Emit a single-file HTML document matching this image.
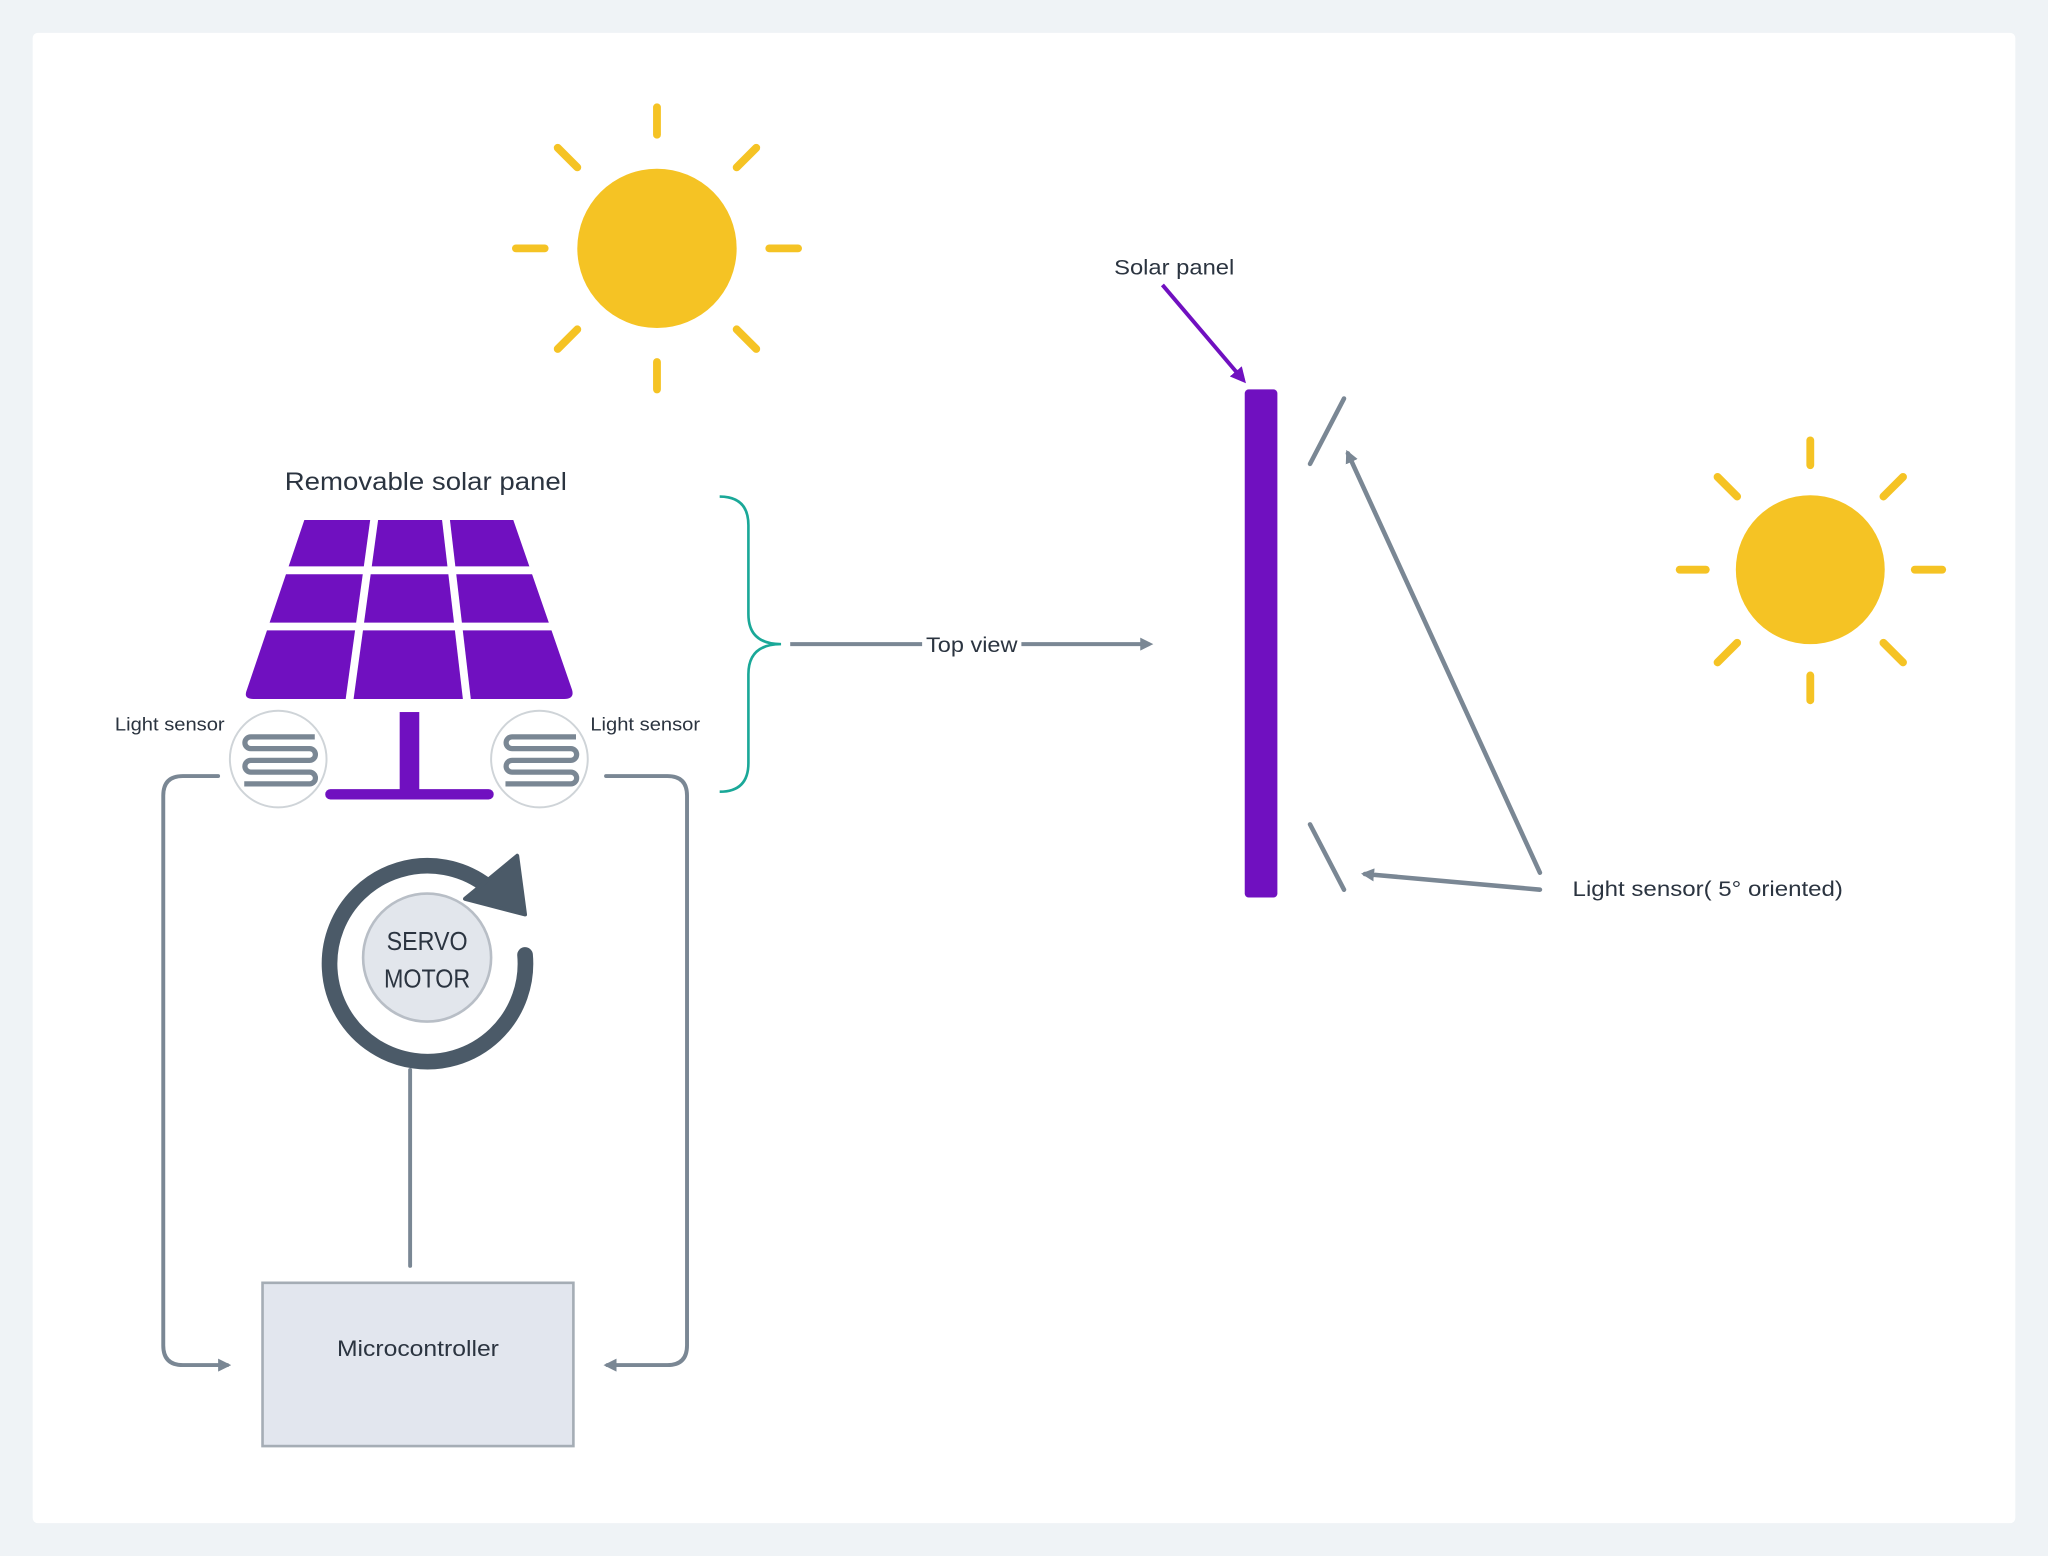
<!DOCTYPE html>
<html><head><meta charset="utf-8"><style>
html,body{margin:0;padding:0;background:#eff3f6;}
svg{display:block;}
text{font-family:"Liberation Sans",sans-serif;fill:#2b3440;}
</style></head><body>
<svg width="2048" height="1556" viewBox="0 0 1568 1191" xmlns="http://www.w3.org/2000/svg">
<defs>
<marker id="ag" markerWidth="10" markerHeight="10" refX="7" refY="5" orient="auto" markerUnits="userSpaceOnUse"><path d="M0,0 L10,5 L0,10 z" fill="#7a8794"/></marker>
<marker id="ap" markerWidth="12" markerHeight="12" refX="9" refY="6" orient="auto" markerUnits="userSpaceOnUse"><path d="M0,0 L12,6 L0,12 z" fill="#7010c0"/></marker>
</defs>
<rect x="0" y="0" width="1568" height="1191" fill="#eff3f6"/>
<rect x="25" y="25" width="1518" height="1141" rx="4" fill="#fff"/>

<g stroke="#f5c324" stroke-width="6" stroke-linecap="round">
<circle cx="503" cy="190" r="61" fill="#f5c324" stroke="none"/>
<line x1="503" y1="82" x2="503" y2="103"/><line x1="503" y1="277" x2="503" y2="298"/>
<line x1="395" y1="190" x2="417" y2="190"/><line x1="589" y1="190" x2="611" y2="190"/>
<line x1="427" y1="113" x2="442" y2="128"/><line x1="579" y1="113" x2="564" y2="128"/>
<line x1="427" y1="267" x2="442" y2="252"/><line x1="579" y1="267" x2="564" y2="252"/>
</g>
<g stroke="#f5c324" stroke-width="6" stroke-linecap="round">
<circle cx="1386" cy="436" r="57" fill="#f5c324" stroke="none"/>
<line x1="1386" y1="337" x2="1386" y2="356"/><line x1="1386" y1="517" x2="1386" y2="536"/>
<line x1="1286" y1="436" x2="1306" y2="436"/><line x1="1466" y1="436" x2="1487" y2="436"/>
<line x1="1315" y1="365" x2="1330" y2="380"/><line x1="1457" y1="365" x2="1442" y2="380"/>
<line x1="1315" y1="507" x2="1330" y2="492"/><line x1="1457" y1="507" x2="1442" y2="492"/>
</g>

<text x="218" y="375" font-size="19" textLength="216" lengthAdjust="spacingAndGlyphs">Removable solar panel</text>
<path d="M233,398 L393,398 L438,528 Q440,535 432,535 L194,535 Q186,535 189,528 Z" fill="#7010c0"/>
<g stroke="#fff" stroke-width="6">
<line x1="200" y1="436.5" x2="430" y2="436.5"/>
<line x1="195" y1="479.5" x2="435" y2="479.5"/>
<line x1="287" y1="394" x2="267" y2="540"/>
<line x1="341" y1="394" x2="358" y2="540"/>
</g>
<rect x="306" y="545" width="15" height="62" fill="#7010c0"/>
<line x1="253" y1="608" x2="374" y2="608" stroke="#7010c0" stroke-width="8" stroke-linecap="round"/>

<g fill="none">
<circle cx="213" cy="581" r="37" stroke="#cfd4d8" stroke-width="1.5"/>
<circle cx="413" cy="581" r="37" stroke="#cfd4d8" stroke-width="1.5"/>
<path d="M241,564 H192 a4.5,4.5 0 0 0 0,9 H237 a4.5,4.5 0 0 1 0,9 H192 a4.5,4.5 0 0 0 0,9 H237 a4.5,4.5 0 0 1 0,9 H187" stroke="#7a8794" stroke-width="4"/>
<path d="M441,564 H392 a4.5,4.5 0 0 0 0,9 H437 a4.5,4.5 0 0 1 0,9 H392 a4.5,4.5 0 0 0 0,9 H437 a4.5,4.5 0 0 1 0,9 H387" stroke="#7a8794" stroke-width="4"/>
</g>
<text x="88" y="559" font-size="14" textLength="84" lengthAdjust="spacingAndGlyphs">Light sensor</text>
<text x="452" y="559" font-size="14" textLength="84" lengthAdjust="spacingAndGlyphs">Light sensor</text>

<g fill="none" stroke="#7a8794" stroke-width="3" stroke-linecap="round">
<path d="M167,594 H140 Q125,594 125,609 V1030 Q125,1045 140,1045 H174" marker-end="url(#ag)"/>
<path d="M464,594 H511 Q526,594 526,609 V1030 Q526,1045 511,1045 H465" marker-end="url(#ag)"/>
<line x1="314" y1="819" x2="314" y2="969"/>
</g>

<path d="M370,676 A75,75 0 1 0 402,731" fill="none" stroke="#4b5a68" stroke-width="12" stroke-linecap="round"/>
<path d="M356,688 L396,655 L402,700 Z" fill="#4b5a68" stroke="#4b5a68" stroke-width="3" stroke-linejoin="round"/>
<circle cx="327" cy="733" r="49" fill="#e2e6ec" stroke="#b8bec6" stroke-width="2"/>
<text x="327" y="727" font-size="20" text-anchor="middle" textLength="62" lengthAdjust="spacingAndGlyphs">SERVO</text>
<text x="327" y="756" font-size="20" text-anchor="middle" textLength="66" lengthAdjust="spacingAndGlyphs">MOTOR</text>

<rect x="201" y="982" width="238" height="125" fill="#e2e6ee" stroke="#a5adb5" stroke-width="2"/>
<text x="258" y="1038" font-size="17" textLength="124" lengthAdjust="spacingAndGlyphs">Microcontroller</text>

<path d="M551,380 Q573,380 573,402 V470 Q573,493 598,493 Q573,493 573,516 V584 Q573,606 551,606" fill="none" stroke="#1aa898" stroke-width="2"/>

<g stroke="#7a8794" stroke-width="3" fill="none">
<line x1="605" y1="493" x2="706" y2="493"/>
<line x1="782" y1="493" x2="880" y2="493" marker-end="url(#ag)"/>
</g>
<text x="709" y="499" font-size="16" textLength="70" lengthAdjust="spacingAndGlyphs">Top view</text>

<rect x="953" y="298" width="25" height="389" rx="3" fill="#7010c0"/>
<text x="853" y="210" font-size="16" textLength="92" lengthAdjust="spacingAndGlyphs">Solar panel</text>
<line x1="890" y1="218" x2="952" y2="291" stroke="#7010c0" stroke-width="3" marker-end="url(#ap)"/>
<g stroke="#7a8794" stroke-width="3.5" stroke-linecap="round" fill="none">
<line x1="1003" y1="355" x2="1029" y2="305"/>
<line x1="1003" y1="631" x2="1029" y2="681"/>
<line x1="1179" y1="668" x2="1032" y2="347" marker-end="url(#ag)"/>
<line x1="1179" y1="681" x2="1045" y2="669" marker-end="url(#ag)"/>
</g>
<text x="1204" y="686" font-size="16" textLength="207" lengthAdjust="spacingAndGlyphs">Light sensor( 5° oriented)</text>
</svg>
</body></html>
